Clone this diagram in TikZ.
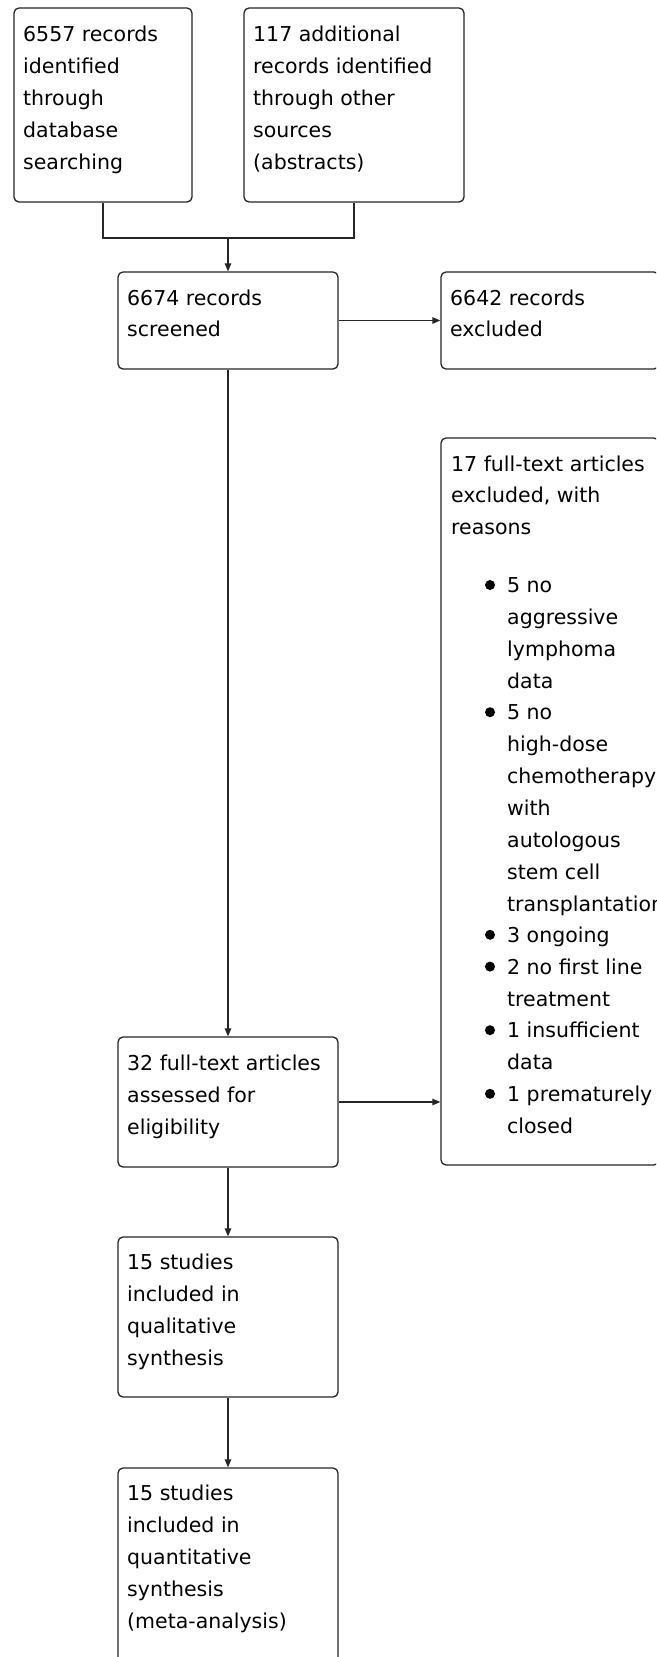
\documentclass[tikz,border=0pt]{standalone}
\usepackage{fontspec}
\setmainfont{DejaVu Sans}
\usetikzlibrary{arrows.meta,fit}
\newcommand{\toplines}[1]{\begin{tabular}[t]{@{}l@{}}#1\end{tabular}}
\begin{document}
\begin{tikzpicture}[x=1pt,y=-1pt,
  box/.style={draw=black!85, line width=1.3pt, rounded corners=5pt, inner sep=0pt, rectangle},
  txt/.style={anchor=base west, inner sep=0pt, font=\fontsize{20.5}{31.9}\selectfont},
  line/.style={draw=black!85, line width=1.3pt},
  arr/.style={line, -{Triangle[length=8pt,width=6.5pt]}},
  bul/.style={circle, fill=black, inner sep=0pt, minimum size=10pt}
]
\clip (0,0) rectangle (656,1657);
\fill[white] (0,0) rectangle (656,1657);

% boxes
\node[box, fit={(14,8) (192,202)}] (A) {};
\node[box, fit={(244,8) (464,202)}] (B) {};
\node[box, fit={(118,272) (338,369)}] (C) {};
\node[box, fit={(441,272) (659,369)}] (D) {};
\node[box, fit={(441,438) (659,1165)}] (E) {};
\node[box, fit={(118,1037) (338,1167)}] (F) {};
\node[box, fit={(118,1237) (338,1397)}] (G) {};
\node[box, fit={(118,1468) (338,1662)}] (H) {};

% texts
\node[txt] (At) at (23,41.5) {\toplines{6557 records\\identified\\through\\database\\searching}};
\node[txt] (Bt) at (253,41.5) {\toplines{117 additional\\records identified\\through other\\sources\\(abstracts)}};
\node[txt] (Ct) at (127,305) {\toplines{6674 records\\screened}};
\node[txt] (Dt) at (450,305) {\toplines{6642 records\\excluded}};
\node[txt] (Et) at (451,471) {\toplines{17 full-text articles\\excluded, with\\reasons}};
\node[txt] (Ft) at (127,1070.5) {\toplines{32 full-text articles\\assessed for\\eligibility}};
\node[txt] (Gt) at (127,1269.5) {\toplines{15 studies\\included in\\qualitative\\synthesis}};
\node[txt] (Ht) at (127,1500.5) {\toplines{15 studies\\included in\\quantitative\\synthesis\\(meta-analysis)}};

% bullet list in E
\node[bul] (b1) at (490,585) {};
\node[txt] (i1) at (507,592.5) {\toplines{5 no\\aggressive\\lymphoma\\data}};
\node[bul] (b2) at (490,712.2) {};
\node[txt] (i2) at (507,719.7) {\toplines{5 no\\high-dose\\chemotherapy\\with\\autologous\\stem cell\\transplantation}};
\node[bul] (b3) at (490,934.8) {};
\node[txt] (i3) at (507,942.3) {3 ongoing};
\node[bul] (b4) at (490,966.6) {};
\node[txt] (i4) at (507,974.1) {\toplines{2 no first line\\treatment}};
\node[bul] (b5) at (490,1030.2) {};
\node[txt] (i5) at (507,1037.7) {\toplines{1 insufficient\\data}};
\node[bul] (b6) at (490,1093.8) {};
\node[txt] (i6) at (507,1101.3) {\toplines{1 prematurely\\closed}};

% connectors
\coordinate (m) at (228,238);
\draw[line] (A.south) |- (m) -| (B.south);
\draw[arr] (m) -- (C.north);
\draw[arr] (C.east) -- (C.east -| D.west);
\draw[arr] (C.south) -- (F.north);
\draw[arr] (F.east) -- (F.east -| E.west);
\draw[arr] (F.south) -- (G.north);
\draw[arr] (G.south) -- (H.north);
\end{tikzpicture}
\end{document}
